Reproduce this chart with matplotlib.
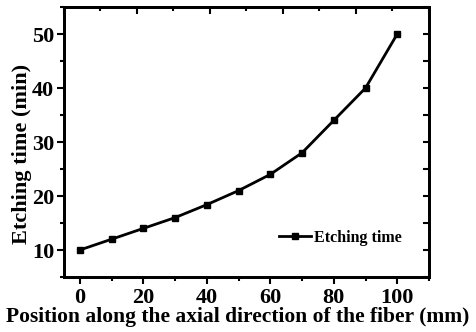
import matplotlib.pyplot as plt
from matplotlib.ticker import MultipleLocator

position = [0, 10, 20, 30, 40, 50, 60, 70, 80, 90, 100]
etching_time = [10, 12, 14, 16, 18.4, 21, 24, 28, 34, 40, 50]

plt.rcParams['font.family'] = ['Liberation Serif', 'DejaVu Serif']
plt.rcParams['font.weight'] = 'bold'

fig = plt.figure(figsize=(4.77, 3.32), dpi=100)
ax = fig.add_axes([64 / 477, 55 / 332, 365 / 477, 270 / 332])

ax.plot(position, etching_time, 'k-', lw=2, marker='s', ms=5, label='Etching time')

ax.set_xlim(-5, 110)
ax.set_ylim(5, 55)
ax.xaxis.set_major_locator(MultipleLocator(20))
ax.xaxis.set_minor_locator(MultipleLocator(10))
ax.yaxis.set_major_locator(MultipleLocator(10))
ax.yaxis.set_minor_locator(MultipleLocator(5))
ax.tick_params(which='major', direction='out', length=5, width=1.5, labelsize=16, pad=3)
ax.tick_params(which='minor', direction='out', length=3, width=1.5)
ax.tick_params(axis='y', which='both', right=False, pad=2)

for s in ax.spines.values():
    s.set_linewidth(2)

# right-side ticks point inward
rax = ax.secondary_yaxis('right')
rax.yaxis.set_major_locator(MultipleLocator(5))
rax.tick_params(direction='in', length=4, width=1.5, labelright=False)
rax.spines['right'].set_linewidth(2)

# top axis with its own inward ticks
tax = ax.twiny()
tax.set_xlim(0, 100)
tax.xaxis.set_major_locator(MultipleLocator(20))
tax.xaxis.set_minor_locator(MultipleLocator(10))
tax.tick_params(which='major', direction='in', length=5, width=1.5, labeltop=False)
tax.tick_params(which='minor', direction='in', length=3, width=1.5)
for s in tax.spines.values():
    s.set_linewidth(2)

ax.set_xlabel('Position along the axial direction of the fiber (mm)', fontsize=15.5,
              fontweight='bold')
ax.xaxis.set_label_coords(0.477, -0.111)
ax.set_ylabel('Etching time (min)', fontsize=16, fontweight='bold')
ax.yaxis.set_label_coords(-0.088, 0.456)

ax.legend(loc='center left', bbox_to_anchor=(0.55, 0.145), frameon=False,
          handlelength=2.0, handletextpad=0.2,
          prop={'weight': 'bold', 'size': 11.5})

fig.savefig('out.png', dpi=100)
